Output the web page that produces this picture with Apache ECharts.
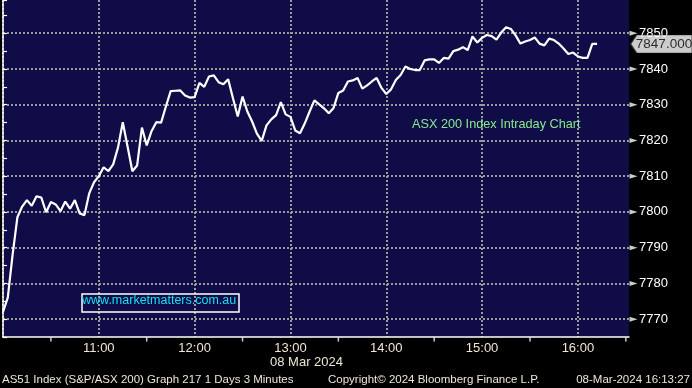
<!DOCTYPE html>
<html><head><meta charset="utf-8">
<script src="https://cdn.jsdelivr.net/npm/echarts@6/dist/echarts.min.js"></script>
<style>html,body{margin:0;padding:0;background:#000;}#c{width:692px;height:388px;}</style>
</head><body><div id="c"></div>
<script>
// ---- data ----
const barMinutes = 3;           // 3-minute bars starting 10:00
const prices = [
  7772, 7776, 7788, 7798.5, 7801.5, 7803.3, 7801.7, 7804.4, 7804, 7799.9,
  7802.8, 7802.1, 7800.2, 7802.9, 7800.9, 7803.3, 7799.6, 7799.1, 7805.2, 7808.3,
  7810, 7812.5, 7811.4, 7813.3, 7818, 7825.1, 7818.3, 7811.4, 7813, 7823.6,
  7818.6, 7822.6, 7825.1, 7825, 7829.5, 7833.8, 7833.9, 7834, 7832.6, 7832,
  7832.1, 7836.1, 7835, 7837.9, 7838.2, 7836.3, 7835.7, 7837.1, 7831.8, 7826.7,
  7832.3, 7828.1, 7825.3, 7821.9, 7819.9, 7824.2, 7825.9, 7827.1, 7830.7, 7827.3,
  7826.6, 7822.8, 7822, 7824.8, 7828.1, 7831.2, 7830.1, 7829, 7827.6, 7829.1,
  7833.3, 7834, 7836.5, 7836.8, 7837.5, 7834.5, 7835.4, 7836.5, 7837.5, 7834.7,
  7833, 7834.3, 7836.9, 7838.3, 7840.7, 7840, 7839.7, 7839.7, 7842.4, 7842.7,
  7842.7, 7841.7, 7843.1, 7842.9, 7845, 7845.4, 7846.1, 7845.3, 7849.1, 7847.4,
  7848.7, 7849.5, 7849.2, 7848.2, 7850.2, 7851.7, 7851.2, 7849.4, 7847.1, 7847.7,
  7848.1, 7848.8, 7847.1, 7846.6, 7848.5, 7848.1, 7847.1, 7845.7, 7844.2, 7844.6,
  7843.5, 7843.1, 7843.1, 7847, 7847
];
const xTickMinutes = [60, 120, 180, 240, 300, 360];
const xTickLabels = ['11:00', '12:00', '13:00', '14:00', '15:00', '16:00'];
const halfHourMinutes = [30, 90, 150, 210, 270, 330, 390];
const yTickValues = [7770, 7780, 7790, 7800, 7810, 7820, 7830, 7840, 7850];
const lastPrice = 7847;
const lastPriceLabel = '7847.000';
const dateLabel = '08 Mar 2024';
const annotation = 'ASX 200 Index Intraday Chart';
const watermark = 'www.marketmatters.com.au';
const footerLeft = 'AS51 Index (S&P/ASX 200) Graph 217 1 Days 3 Minutes';
const footerMid = 'Copyright\u00A9 2024 Bloomberg Finance L.P.';
const footerRight = '08-Mar-2024 16:13:27';

// ---- chart ----
const X_MIN = 0, X_MAX = 392, Y_MIN = 7765, Y_MAX = 7859.3;
const FONT = '"Liberation Sans", Arial, sans-serif';
const CREAM = '#efe6d4';
const GRIDC = '#9a9a9a';

const chart = echarts.init(document.getElementById('c'), null, {renderer: 'canvas'});
chart.setOption({
  backgroundColor: '#000',
  animation: false,
  grid: {left: 0, right: 63, top: 0, bottom: 51, show: true, backgroundColor: '#0f0c48', borderWidth: 0},
  xAxis: {
    type: 'value', min: X_MIN, max: X_MAX, interval: 60,
    axisLine: {show: true, lineStyle: {color: '#fff', width: 1.5}},
    axisTick: {show: false},
    splitLine: {show: true, showMaxLine: false, lineStyle: {color: GRIDC, type: [2, 2], width: 2}},
    axisLabel: {
      color: CREAM, fontSize: 13, fontFamily: FONT, margin: 5,
      formatter: v => { const i = xTickMinutes.indexOf(v); return i >= 0 ? xTickLabels[i] : ''; }
    }
  },
  yAxis: {
    type: 'value', position: 'right', min: Y_MIN, max: Y_MAX, interval: 5,
    axisLine: {show: true, lineStyle: {color: '#fff', width: 1.5}},
    axisTick: {show: true, inside: false, length: 4, lineStyle: {color: '#fff', width: 1.2}},
    splitLine: {show: true, showMaxLine: false, lineStyle: {color: ['rgba(0,0,0,0)', GRIDC], type: [2, 2], width: 2}},
    axisLabel: {
      color: '#ffffff', fontSize: 13, fontFamily: FONT, margin: 10,
      formatter: v => yTickValues.includes(v) ? String(v) : ''
    }
  },
  series: [
    {
      type: 'line', data: prices.map((p, i) => [i * barMinutes, p]),
      showSymbol: false, symbol: 'none',
      lineStyle: {color: '#ffffff', width: 2.2}, z: 5
    },
    { // y-axis major tick triangles
      type: 'scatter', data: yTickValues.map(v => [X_MAX, v]), clip: false, silent: true,
      symbol: 'path://M0,0 L10,5 L0,10 Z', symbolSize: [8, 5], symbolOffset: [4.5, 0],
      itemStyle: {color: '#fff'}, z: 6
    },
    { // half-hour ticks under x axis
      type: 'scatter', data: halfHourMinutes.map(m => [m, Y_MIN]), clip: false, silent: true,
      symbol: 'rect', symbolSize: [1.5, 4], symbolOffset: [0, 2.5],
      itemStyle: {color: '#fff'}, z: 6
    },
    { // last price tag
      type: 'scatter', data: [[X_MAX, lastPrice]], clip: false, silent: true,
      symbol: 'path://M0,9 L6,0 L62,0 L62,18 L6,18 Z', symbolSize: [62, 18], symbolOffset: [32.5, 0],
      itemStyle: {color: '#fff', borderColor: '#222', borderWidth: 1}, z: 10,
      label: {show: true, position: 'inside', formatter: lastPriceLabel, color: '#000',
        fontSize: 13.5, fontFamily: FONT, offset: [2.5, 0]}
    }
  ],
  graphic: [
    {type: 'text', left: 412, top: 118, z: 20,
      style: {text: annotation, fill: '#86ea8c', font: '12.7px ' + FONT}},
    {type: 'rect', left: 79.5, top: 291.5, z: 20,
      shape: {width: 157, height: 18}, style: {fill: 'none', stroke: '#fff', lineWidth: 1.5}},
    {type: 'text', left: 82, top: 294, z: 21,
      style: {text: watermark, fill: '#14e0f0', font: '12.5px ' + FONT}},
    {type: 'text', left: 270, top: 356, z: 20,
      style: {text: dateLabel, fill: CREAM, font: '13px ' + FONT}},
    {type: 'text', left: 2, top: 374, z: 20,
      style: {text: footerLeft, fill: CREAM, font: '11.5px ' + FONT}},
    {type: 'text', left: 328, top: 374, z: 20,
      style: {text: footerMid, fill: CREAM, font: '11.5px ' + FONT}},
    {type: 'text', right: 2, top: 374, z: 20,
      style: {text: footerRight, fill: CREAM, font: '11.5px ' + FONT}}
  ]
});
</script>
</body></html>
